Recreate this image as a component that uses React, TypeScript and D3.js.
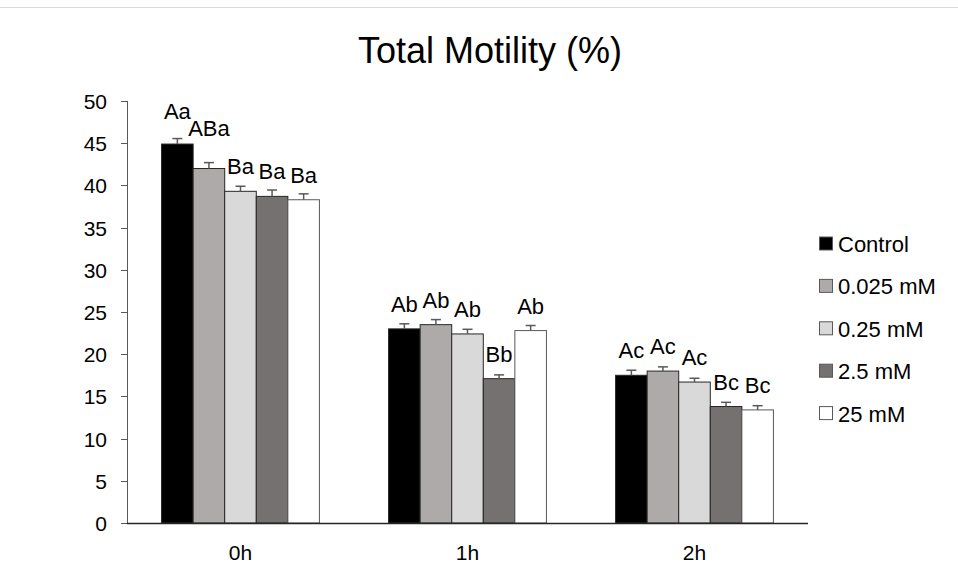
import React from "react";
import * as d3 from "d3";

const categories = ["0h", "1h", "2h"];
const seriesNames = ["Control", "0.025 mM", "0.25 mM", "2.5 mM", "25 mM"];
const seriesColors = ["#000000", "#AEAAAA", "#D9D9D9", "#767171", "#FFFFFF"];
// values[series][category]
const controlVals = [44.9, 23.0, 17.5];
const v0025Vals = [42.0, 23.5, 18.0];
const v025Vals = [39.3, 22.4, 16.7];
const v25Vals = [38.7, 17.1, 13.8];
const v25mMVals = [38.3, 22.8, 13.4];
const values = [controlVals, v0025Vals, v025Vals, v25Vals, v25mMVals];
const controlErr = [0.65, 0.6, 0.6];
const v0025Err = [0.7, 0.6, 0.5];
const v025Err = [0.6, 0.55, 0.45];
const v25Err = [0.75, 0.45, 0.5];
const v25mMErr = [0.7, 0.6, 0.5];
const errors = [controlErr, v0025Err, v025Err, v25Err, v25mMErr];
const controlLabels = ["Aa", "Ab", "Ac"];
const v0025Labels = ["ABa", "Ab", "Ac"];
const v025Labels = ["Ba", "Ab", "Ac"];
const v25Labels = ["Ba", "Bb", "Bc"];
const v25mMLabels = ["Ba", "Ab", "Bc"];
const labels = [controlLabels, v0025Labels, v025Labels, v25Labels, v25mMLabels];
const yTicks = [0, 5, 10, 15, 20, 25, 30, 35, 40, 45, 50];

const W = 958;
const H = 579;
const FONT = "'Liberation Sans', Arial, sans-serif";

export default function App() {
  const left = 127;
  const right = 808;
  const top = 101;
  const bottom = 523;
  const x = d3.scaleBand().domain(categories).range([left, right]).paddingInner(0).paddingOuter(0);
  const groupW = x.bandwidth() * (5 / 7.19);
  const inner = d3
    .scaleBand()
    .domain(seriesNames)
    .range([0, groupW]);
  const y = d3.scaleLinear().domain([0, 50]).range([bottom, top]);
  const bw = inner.bandwidth();

  const labelLift = (s: number, c: number) => {
    if (c === 0 && s === 0) return 25;
    if (c === 0 && s === 1) return 33;
    return 17;
  };

  return (
    <svg width={W} height={H} style={{ position: "absolute", left: 0, top: 0, fontFamily: FONT }}>
      <rect x={0} y={0} width={W} height={H} fill="#fff" />
      <line x1={0} x2={W} y1={7.5} y2={7.5} stroke="#d9d9d9" strokeWidth={1} />
      <text x={490} y={63} textAnchor="middle" fontSize={36} fill="#000">
        Total Motility (%)
      </text>
      {/* y axis */}
      <line x1={left + 0.5} x2={left + 0.5} y1={top} y2={bottom} stroke="#595959" strokeWidth={1} />
      {yTicks.map((t) => (
        <g key={t}>
          <line x1={left - 6} x2={left} y1={Math.round(y(t)) + 0.5} y2={Math.round(y(t)) + 0.5} stroke="#595959" />
          <text x={107} y={y(t) + 8} textAnchor="end" fontSize={21} fill="#000">
            {t}
          </text>
        </g>
      ))}
      {/* bars */}
      {categories.map((cat, c) => {
        const gx = (x(cat) as number) + (x.bandwidth() - groupW) / 2;
        return (
          <g key={cat}>
            {seriesNames.map((s, si) => {
              const v = values[si][c];
              const e = errors[si][c];
              const bx = gx + (inner(s) as number);
              const cx = bx + bw / 2;
              return (
                <g key={s}>
                  <rect
                    x={bx}
                    y={y(v)}
                    width={bw}
                    height={y(0) - y(v)}
                    fill={seriesColors[si]}
                    stroke={si === 4 ? "#595959" : "#262626"}
                    strokeWidth={1}
                  />
                  <line x1={cx} x2={cx} y1={y(v)} y2={y(v + e)} stroke="#595959" strokeWidth={1.5} />
                  <line x1={cx - 5} x2={cx + 5} y1={y(v + e)} y2={y(v + e)} stroke="#595959" strokeWidth={1.5} />
                  <text x={cx} y={y(v) - labelLift(si, c)} textAnchor="middle" fontSize={22} fill="#000">
                    {labels[si][c]}
                  </text>
                </g>
              );
            })}
            <text x={(x(cat) as number) + x.bandwidth() / 2} y={560} textAnchor="middle" fontSize={21} fill="#000">
              {cat}
            </text>
          </g>
        );
      })}
      {/* x axis */}
      <line x1={left} x2={right} y1={bottom + 0.5} y2={bottom + 0.5} stroke="#262626" strokeWidth={1.5} />
      {/* legend */}
      {seriesNames.map((s, si) => {
        const cy = 244 + si * 42.4;
        return (
          <g key={s}>
            <rect x={819.5} y={cy - 7} width={13} height={13} fill={seriesColors[si]} stroke="#595959" strokeWidth={1} />
            <text x={838} y={cy + 8} fontSize={22} fill="#000">
              {s}
            </text>
          </g>
        );
      })}
    </svg>
  );
}
